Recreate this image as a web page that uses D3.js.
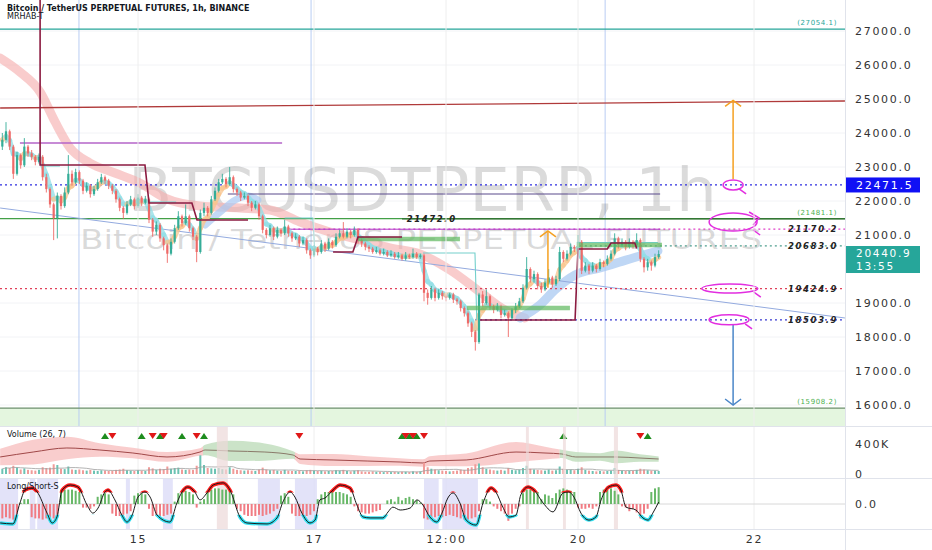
<!DOCTYPE html>
<html><head><meta charset="utf-8">
<script src="https://cdn.jsdelivr.net/npm/d3@7"></script>
<style>
body{margin:0;background:#fff;}
svg{display:block;font-family:"DejaVu Sans",sans-serif;}
</style></head><body>
<svg id="c" width="932" height="550"></svg>
<script>
// ---------------- DATA ----------------
const startTime = Date.UTC(2022,5,13,11); // first hourly candle
const firstOpen = 23600;
const closes = [
23800,24050,23600,22800,23350,23050,23600,23400,23300,23150,
23300,22700,22350,21900,21500,22150,21850,22250,22800,22550,
22850,22600,22300,22450,22200,22350,22550,22700,22600,22450,
22300,22050,21800,21650,21900,22050,21850,22100,21950,22050,
21450,21100,21300,20900,20700,20450,20800,21200,21550,21350,
21550,21200,20950,20500,21650,21800,21650,22050,22300,22550,
22650,22500,22700,22350,22250,22100,22150,21950,21800,21900,
21550,21150,21000,21200,20950,21150,21050,21250,21050,20900,
20950,20750,20850,20550,20400,20600,20500,20750,20600,20800,
20700,20950,21050,20950,21100,21000,21150,20850,20750,20650,
20600,20500,20550,20450,20500,20400,20450,20350,20400,20300,
20400,20350,20450,20350,20400,19300,19150,19400,19150,19300,
19200,19150,19250,19100,19050,18850,18700,18400,18150,17850,
19250,19000,19200,18900,18800,18900,18650,18700,18550,18800,
18900,19050,19450,20000,19700,19850,19500,19400,19600,19750,
19550,19700,20500,20300,20450,20650,20600,20800,19950,20100,
19950,20100,20000,20200,20150,20300,20450,20900,20700,20800,
20650,20800,20700,20850,20300,20050,20200,20100,20350,20440.9];
const highs = [
24000,24320,24100,23650,23450,23400,23850,23650,23500,23350,
23400,23350,22800,22400,21950,22250,22200,22400,23350,22900,
22950,22900,22650,22550,22500,22450,22650,22800,22750,22650,
22500,22350,22100,21850,22000,22150,22100,22200,22150,22150,
22100,21500,21400,21350,20950,20750,20900,21300,21700,21600,
21900,21600,21250,21000,21750,21950,21850,22150,22400,22650,
22800,22700,23000,22750,22400,22300,22250,22200,22000,22000,
21950,21600,21200,21300,21250,21250,21200,21450,21300,21100,
21050,21000,20950,20900,20600,20700,20650,20850,20800,20900,
20850,21050,21150,21380,21200,21150,21250,21200,20900,20800,
20700,20650,20650,20600,20600,20550,20550,20500,20500,20450,
20500,20450,20600,20500,20450,20450,19400,19500,19450,19400,
19350,19250,19300,19300,19150,19100,18900,18750,18450,18200,
19300,19350,19400,19250,18950,19000,18950,18800,18750,18850,
19000,19150,19550,20350,20050,19950,19900,19600,19700,20000,
19800,19800,20650,20550,20550,20750,20700,21000,20850,20200,
20150,20200,20150,20300,20250,20400,20550,21050,20950,20900,
20850,20900,20850,21050,20900,20350,20300,20250,20450,20550];
const lows = [
23500,23700,23500,22650,22750,22950,23000,23300,23200,23050,
23100,22600,22250,21800,20850,20900,21750,21800,22200,22450,
22500,22500,22200,22250,22100,22150,22300,22500,22500,22350,
22200,21950,21700,21480,21600,21850,21750,21800,21850,21900,
21350,20950,21000,20800,20550,20180,20400,20750,21150,21250,
21300,21100,20850,20200,20450,21550,21550,21600,22000,22250,
22500,22400,22450,22250,22150,22000,22050,21850,21700,21750,
21450,21050,20900,20950,20850,20900,20950,21000,20950,20800,
20850,20650,20700,20450,20300,20350,20400,20450,20500,20550,
20600,20650,20900,20900,20900,20900,20950,20750,20650,20550,
20500,20450,20450,20400,20400,20350,20350,20300,20300,20250,
20250,20300,20300,20300,20300,19050,18950,19100,19050,19100,
19100,19050,19100,19000,18950,18750,18600,18300,18000,17600,
17800,18900,18950,18800,18700,18750,18550,18600,18000,18500,
18700,18850,19000,19400,19600,19600,19400,19300,19350,19550,
19450,19500,19650,20200,20250,20400,20500,20550,19850,19900,
19850,19900,19900,19950,20050,20100,20250,20400,20600,20650,
20550,20600,20600,20650,20200,19900,19950,19950,20050,20300];
const volumes = [ // thousands
70,90,80,110,85,60,75,55,50,45, 55,90,80,85,130,120,70,65,100,60,
55,60,50,45,55,45,40,50,45,40, 45,55,60,70,50,45,40,50,45,40,
90,75,55,70,65,100,70,80,85,60, 55,60,55,110,250,120,80,75,70,80,
65,60,90,70,55,50,45,50,45,40, 60,85,60,50,55,45,40,55,45,40,
40,45,35,50,55,45,40,45,35,40, 40,50,45,55,40,35,45,50,35,30,
30,35,30,30,25,30,25,30,25,30, 30,25,35,30,35,150,90,70,60,50,
45,40,35,40,45,60,55,80,90,130, 140,90,70,60,50,45,55,45,80,55,
50,60,80,110,70,60,55,50,45,60, 45,50,100,70,55,60,50,70,90,55,
45,40,35,40,35,40,45,80,55,45, 40,45,40,55,70,60,50,45,45,40];
const hist = [
-0.6,-0.55,-0.6,-0.65,-0.4,0.05,0.2,0.2,-0.55,-0.6,
-0.6,-0.65,-0.6,-0.55,-0.6,-0.5,0.55,0.6,0.6,0.6,
0.55,0.5,-0.15,-0.15,-0.2,-0.1,0.3,0.4,0.45,0.4,
-0.4,-0.5,-0.5,-0.45,-0.4,-0.3,0.35,0.45,0.45,0.4,
-0.2,-0.5,-0.5,-0.55,-0.5,-0.45,-0.4,0.1,0.45,0.5,
0.55,0.5,0.4,-0.15,0.1,0.2,0.55,0.6,0.65,0.65,
0.6,0.6,0.55,0.4,-0.2,-0.3,-0.45,-0.5,-0.5,-0.5,
-0.45,-0.5,-0.45,-0.4,-0.3,-0.2,0.35,0.45,0.3,-0.4,
-0.5,-0.5,-0.45,-0.5,-0.45,-0.3,0.2,0.4,0.5,0.5,
0.55,0.5,0.5,0.45,0.4,0.3,-0.1,-0.3,-0.35,-0.4,
-0.4,-0.35,-0.3,-0.25,0,0.15,0.2,0.1,0.3,0.15,
0.25,0.3,0.2,0.15,0.05,-0.6,-0.65,-0.6,-0.55,-0.5,
-0.55,-0.5,-0.45,-0.5,-0.55,-0.6,-0.65,-0.65,-0.6,-0.55,
-0.3,0.2,0.2,0.1,-0.1,-0.2,-0.3,-0.4,-0.7,-0.4,
-0.2,-0.1,0.45,0.6,0.6,0.55,0.5,0.2,0.4,0.35,
0.25,0.45,0.6,0.65,0.6,0.55,0.5,-0.15,-0.2,-0.2,
-0.15,-0.2,-0.1,0.5,0.6,0.6,0.65,0.55,0.4,-0.1,
-0.15,-0.3,-0.2,-0.35,-0.6,-0.4,-0.2,0.5,0.65,0.7];
const oscHours = [-0.6,2.9,4.8,6.2,8.1,9.5,12.2,13.6,14.9,16.3,18.5,20.6,23.1,24.7,26.1,28,28.8,30.7,32.6,34,35.4,37,38.9,40.3,42.2,45.7,47.6,49,50.6,52.5,53.9,55.8,57.5,60.2,62.1,64.8,66.7,72.2,74.9,76.5,78.5,79.8,81.7,83.9,85.3,86.6,88,90.2,92.1,94.8,96.7,98.4,100.3,103.8,105.2,106.5,108.5,111.2,113.1,114.7,116.6,118.5,119.9,121.5,122.9,124.8,126.5,129.2,131.1,133.3,134.6,136.5,138.2,140.1,141.4,143.4,145,147.5,150.2,152.9,154.5,155.9,157.8,160,161.9,163.3,165.4,167.4,168.7,170.1,172.8,174.7,176.1,177.4,179];
const oscValues = [-0.79,-0.83,0.04,0.58,0.67,0.5,-0.38,-0.79,-0.54,0.58,0.79,0.71,-0.04,-0.38,-0.17,0.5,0.58,0.17,-0.46,-0.75,-0.46,0.29,0.5,0.29,-0.46,-0.75,0.04,0.5,0.71,0.5,0.17,0.46,0.79,0.88,0.58,-0.54,-0.79,-0.83,-0.58,0.08,0.5,0.29,-0.38,-0.79,-0.67,0.17,0.25,0.58,0.79,0.67,-0.04,-0.54,-0.58,-0.58,-0.33,-0.13,-0.25,-0.17,0.17,-0.04,-0.54,-0.75,-0.38,0.25,0.46,0.04,-0.67,-0.88,0.04,0.67,0.5,-0.13,-0.54,-0.46,0.38,0.71,0.58,0.04,-0.33,0.46,0.5,0.29,-0.38,-0.67,-0.54,0.17,0.71,0.79,0.58,-0.13,-0.25,-0.58,-0.67,-0.38,0.08];
const oscShadeSpans = [[-1,4.3],[7.5,9],[9.5,15.2],[33.7,34.8],[43.8,46.5],[69.7,75.7],[79.8,85.8],[115,119],[120,129.7]];
const pinkShadeSpans = [[58.5,61.5],[142.8,143.6],[152.9,153.7],[166.8,167.9]];
// volume envelope indicator: [hour, mid (K), half width (K)]
const volBand = [[-0.6,227,110],[8.4,293,165],[17.6,347,150],[26.6,320,90],[35.6,280,70],[44.9,227,65],[53.9,293,50],[55.3,320,70],[62.1,307,135],[71.6,293,115],[79.3,253,50],[81.2,200,65],[90.2,187,80],[99.5,173,65],[108.5,160,50],[114.7,147,50],[116.6,173,65],[126.5,187,85],[140.1,293,135],[148,280,85],[152.6,267,55],[156.4,227,65],[163,227,50],[167.4,227,85],[173.9,213,50],[179,200,35]];
const volRegimeBreaks = [-2,54.7,79.8,152,180];
const volBullSpans = [[54.7,79.8],[152,180]];
const volUpMarks = [28,38,43,49,55,109,111,113,153,176];
const volDownMarks = [30,41,44,53,81,110,112,115,174];
// slow average bands: [hour, price]
const slowBandBear = [[-0.6,26206],[4.8,25794],[10.3,25206],[14.4,24324],[18.5,23559],[23.9,23118],[30.7,22824],[37.5,22530],[44.4,22088],[53.9,21853],[64.8,21794],[73,21735],[81.2,21383],[89.3,21089],[97.5,20853],[105.7,20618],[113.9,20441],[122.1,19971],[130.3,19324],[137.1,18794],[142.5,18559]];
const slowBandBull = [[141.2,18559],[146.6,18941],[150.7,19383],[156.2,19824],[163,20030],[168.4,20206],[173.9,20383],[178.8,20530]];
const slowBandArc = [[55.3,21294],[59.4,21677],[63.5,22030],[67,22147],[69.7,22030]];
// horizontal levels
const bracketLevels = [27054.1, 21481.1, 15908.2];
const dottedLevels = [22471.5, 21170.2, 20683.0, 19424.9, 18503.9];
const dottedStarts = [-40, 78, 157.5, -40, 128.9];
const midLevel = 21472.0, midLevelStart = 109, midLabelHour = 110.3;
const purpleLevel = 23706, purpleSpan = [4.8, 76.3];
const navyLevel = 22206, navySpan = [61.5, 179.4];
const violetLevel = 21170.2, violetSpan = [78, 179.4];
const channelLine = [[-0.6,24735],[229.8,24941]];
const trendLine = [[-0.6,21794],[229.8,18559]];
const stepLines = [
  [[10.3,28500],[10.3,23059],[38.9,23059],[40,21941],[51.7,21941],[53.1,21441],[67,21441]],
  [[90.2,20500],[95.6,20500],[97,20941],[109,20941]],
  [[130.3,18500],[156.2,18500],[157,20588],[165,20588],[166,20765],[172.5,20765],[173,20600]]];
const tealSteps = [
  [[11.1,23030],[15.7,23030]],
  [[39.7,21970],[47.4,21970]],
  [[77,21500],[84.7,21500],[85.2,20560]],
  [[114.7,20471],[128.9,20471],[129.4,18500]],
  [[156.7,20780],[178.8,20780]]];
const supplyZones = [[97,124.8,20883],[126.7,154.8,18853],[156.7,179.9,20706]];
const sessionLines = [20.9, 84.2, 164.4];
const upArrows = [[199.3,22650,24960],[148.8,19450,21120]];
const downArrows = [[199.3,18380,16000]];
const loops = [[199.3,22471.5],[199.3,21382],[198.4,19424.9],[198.2,18503.9]];
const priceTicks = [16000,17000,18000,19000,21000,22000,23000,24000,25000,26000,27000];
const xTickDates = ['2022-06-15T00:00Z','2022-06-17T00:00Z','2022-06-18T12:00Z','2022-06-20T00:00Z','2022-06-22T00:00Z'];
const xTickLabels = ['15','17','12:00','20','22'];
const volTicks = [0,400], volTickLabels = ['0','400K'];
const lastPrice = 20440.9, countdown = '13:55';
const alertPrice = 22471.5;

// ---------------- SCALES ----------------
const svg = d3.select('#c');
const PX = 845;
const x = d3.scaleUtc().domain([new Date(Date.UTC(2022,5,15)), new Date(Date.UTC(2022,5,22))]).range([138,754]);
const T = i => new Date(startTime + i*3600e3);
const X = i => x(T(i));
const y = d3.scaleLinear().domain([16000,27000]).range([405,31]);
const yv = d3.scaleLinear().domain([0,400]).range([474,444]);
const yo = d3.scaleLinear().domain([-1,1]).range([528,480]);

const defs = svg.append('defs');
function clip(id,x0,y0,w,h){defs.append('clipPath').attr('id',id).append('rect').attr('x',x0).attr('y',y0).attr('width',w).attr('height',h);}
clip('cm',0,0,PX,426); clip('cv',0,427,PX,51); clip('co',0,479,PX,50);
clip('oRed',0,479,PX,yo(0.48)-479); clip('oCyan',0,yo(-0.45),PX,530-yo(-0.45));

// ---------------- MAIN PANE ----------------
const m = svg.append('g').attr('clip-path','url(#cm)');
m.append('rect').attr('x',0).attr('y',y(15908.2)).attr('width',PX).attr('height',426-y(15908.2)).attr('fill','#e4f6df');
priceTicks.forEach(p=>m.append('line').attr('x1',0).attr('x2',PX).attr('y1',y(p)).attr('y2',y(p)).attr('stroke','#f2f3f6'));
xTickDates.forEach(d=>svg.append('line').attr('x1',x(new Date(d))).attr('x2',x(new Date(d))).attr('y1',0).attr('y2',529).attr('stroke','#eeeeee'));
sessionLines.forEach(h=>m.append('line').attr('x1',X(h)).attr('x2',X(h)).attr('y1',0).attr('y2',426).attr('stroke','#b9cdf3').attr('stroke-width',1));

// watermark
m.append('text').attr('x',128).attr('y',211).attr('font-size',60).attr('textLength',589).attr('lengthAdjust','spacingAndGlyphs')
 .attr('fill','rgba(90,90,90,0.22)').text('BTCUSDTPERP, 1h');
m.append('text').attr('x',80).attr('y',249).attr('font-size',26).attr('textLength',682).attr('lengthAdjust','spacingAndGlyphs')
 .attr('fill','rgba(90,90,90,0.22)').text('Bitcoin / TetherUS PERPETUAL FUTURES');

const ln = d3.line().x(d=>X(d[0])).y(d=>y(d[1]));
const lnC = d3.line().x(d=>X(d[0])).y(d=>y(d[1])).curve(d3.curveMonotoneX);
m.append('path').attr('d',lnC(slowBandBear)).attr('fill','none').attr('stroke','#f5aaaa').attr('stroke-opacity',0.6).attr('stroke-width',9).attr('stroke-linecap','round');
m.append('path').attr('d',lnC(slowBandBull)).attr('fill','none').attr('stroke','#a9c9f2').attr('stroke-opacity',0.75).attr('stroke-width',9).attr('stroke-linecap','round');
m.append('path').attr('d',lnC(slowBandArc)).attr('fill','none').attr('stroke','#a9c9f2').attr('stroke-opacity',0.7).attr('stroke-width',7).attr('stroke-linecap','round');

// levels
const lvlColors = ['#26a69a','#43a047','#6d8f6d'];
bracketLevels.forEach((p,k)=>{
  m.append('line').attr('x1',0).attr('x2',PX).attr('y1',y(p)).attr('y2',y(p)).attr('stroke',lvlColors[k]).attr('stroke-width',1.2);
});
m.append('path').attr('d',ln(channelLine)).attr('stroke','#b03a3a').attr('stroke-width',1.3).attr('fill','none');
m.append('path').attr('d',ln(trendLine)).attr('stroke','#93aadf').attr('stroke-width',1).attr('fill','none');
m.append('line').attr('x1',X(midLevelStart)).attr('x2',PX).attr('y1',y(midLevel)).attr('y2',y(midLevel)).attr('stroke','#2e6b2e').attr('stroke-width',1.2);
const dotColors = ['#2f2fe0','#e040c8','#4f9f8f','#e0405a','#3535d0'];
dottedLevels.forEach((p,k)=>{
  m.append('line').attr('x1',Math.max(0,X(dottedStarts[k]))).attr('x2',PX).attr('y1',y(p)).attr('y2',y(p))
   .attr('stroke',dotColors[k]).attr('stroke-width',1.2).attr('stroke-dasharray','2,3');
});
m.append('line').attr('x1',X(purpleSpan[0])).attr('x2',X(purpleSpan[1])).attr('y1',y(purpleLevel)).attr('y2',y(purpleLevel)).attr('stroke','#b565c8').attr('stroke-width',1.6);
m.append('line').attr('x1',X(navySpan[0])).attr('x2',X(navySpan[1])).attr('y1',y(navyLevel)).attr('y2',y(navyLevel)).attr('stroke','#5a4a8c').attr('stroke-width',1.1);
m.append('line').attr('x1',X(violetSpan[0])).attr('x2',X(violetSpan[1])).attr('y1',y(violetLevel)).attr('y2',y(violetLevel)).attr('stroke','#b03cc8').attr('stroke-width',1);

// fast average band
let e = closes[0];
const ema = closes.map(c => (e = e + (c-e)*0.4));
for(let i=1;i<ema.length;i++){
  m.append('line').attr('x1',X(i-1)).attr('x2',X(i)).attr('y1',y(ema[i-1])).attr('y2',y(ema[i]))
   .attr('stroke', ema[i]>=ema[i-1] ? '#f8c48e' : '#8fdde6').attr('stroke-opacity',0.75).attr('stroke-width',5).attr('stroke-linecap','round');
}
tealSteps.forEach(s=>m.append('path').attr('d',ln(s)).attr('fill','none').attr('stroke','#74d0cc').attr('stroke-width',1.1));

// candles
const cw = 2.2;
closes.forEach((c,i)=>{
  const o = i ? closes[i-1] : firstOpen;
  const col = c>=o ? '#35ad98' : '#ee6a68';
  m.append('line').attr('x1',X(i)).attr('x2',X(i)).attr('y1',y(highs[i])).attr('y2',y(lows[i])).attr('stroke',col).attr('stroke-width',0.9);
  const top = y(Math.max(o,c)), bot = y(Math.min(o,c));
  m.append('rect').attr('x',X(i)-cw/2).attr('y',top).attr('width',cw).attr('height',Math.max(1,bot-top)).attr('fill',col);
});

supplyZones.forEach(z=>m.append('line').attr('x1',X(z[0])).attr('x2',X(z[1])).attr('y1',y(z[2])).attr('y2',y(z[2]))
  .attr('stroke','#5cb85c').attr('stroke-opacity',0.7).attr('stroke-width',4.5));
stepLines.forEach(s=>m.append('path').attr('d',ln(s)).attr('fill','none').attr('stroke','#8b1a40').attr('stroke-width',1.6));

// arrows
function arrow(h,p0,p1,col){
  const xx=X(h), y0=y(p0), y1=y(p1), dir = y1<y0 ? 1 : -1;
  m.append('line').attr('x1',xx).attr('x2',xx).attr('y1',y0).attr('y2',y1).attr('stroke',col).attr('stroke-width',1.5);
  m.append('path').attr('d',`M${xx-8},${y1+dir*6}L${xx},${y1}L${xx+8},${y1+dir*6}`).attr('fill','none').attr('stroke',col).attr('stroke-width',1.5);
}
upArrows.forEach(a=>arrow(a[0],a[1],a[2],'#f5a020'));
downArrows.forEach(a=>arrow(a[0],a[1],a[2],'#4a86c8'));
// hand-drawn loops
const loopSize = [[10,5],[24,9],[28,4.5],[20,5]];
loops.forEach((l,k)=>{
  const cx=X(l[0]), cy=y(l[1]), rx=loopSize[k][0], ry=loopSize[k][1];
  m.append('ellipse').attr('cx',cx).attr('cy',cy).attr('rx',rx).attr('ry',ry).attr('fill','none').attr('stroke','#e22ee0').attr('stroke-width',1.5);
  m.append('path').attr('d',`M${cx+rx-4},${cy+ry-1}L${cx+rx+3},${cy+ry+4}`).attr('stroke','#e22ee0').attr('stroke-width',1.5);
});
m.append('path').attr('d',`M${X(199.3)+16},${y(21382)-10}L${X(199.3)+26},${y(21382)-4}L${X(199.3)+20},${y(21382)+3}`).attr('fill','none').attr('stroke','#e22ee0').attr('stroke-width',1.5);

// level labels
bracketLevels.forEach((p,k)=>m.append('text').attr('x',837).attr('y',y(p)-4).attr('text-anchor','end').attr('font-size',7).attr('letter-spacing',0.6)
  .attr('fill',k===0?'#26a69a':'#4caf50').text('('+p.toFixed(1)+')'));
const lblStyle = s=>s.attr('font-size',8.5).attr('font-style','italic').attr('font-weight','bold').attr('letter-spacing',1.6).attr('fill','#222');
dottedLevels.slice(1).forEach(p=>lblStyle(m.append('text').attr('x',838).attr('y',y(p)+3).attr('text-anchor','end')).text(p.toFixed(1)));
lblStyle(m.append('text').attr('x',X(midLabelHour)).attr('y',y(midLevel)+3)).text(midLevel.toFixed(1));

// header
svg.append('text').attr('x',7).attr('y',10.5).attr('font-size',8).attr('font-weight','bold').attr('fill','#131722').text('Bitcoin / TetherUS PERPETUAL FUTURES, 1h, BINANCE');
svg.append('text').attr('x',7).attr('y',18.5).attr('font-size',8).attr('fill','#131722').text('MRHAB-T');

// ---------------- VOLUME PANE ----------------
const v = svg.append('g').attr('clip-path','url(#cv)');
const bandArea = d3.area().x(d=>X(d[0])).y0(d=>yv(d[1]-d[2])).y1(d=>yv(d[1]+d[2])).curve(d3.curveMonotoneX);
const isBull = h => volBullSpans.some(s=>h>=s[0]&&h<s[1]);
volRegimeBreaks.slice(0,-1).forEach((b,k)=>{
  const r=[b,volRegimeBreaks[k+1]];
  const id='vr'+k; clip(id,X(r[0]),427,X(r[1])-X(r[0]),51);
  const bull=isBull((r[0]+r[1])/2);
  const g=v.append('g').attr('clip-path',`url(#${id})`);
  g.append('path').attr('d',bandArea(volBand)).attr('fill',bull?'#b9dab6':'#f7bcbc').attr('opacity',0.75);
  g.append('path').attr('d',d3.line().x(d=>X(d[0])).y(d=>yv(d[1])).curve(d3.curveMonotoneX)(volBand)).attr('fill','none')
   .attr('stroke',bull?'#8a7a6a':'#a04848').attr('stroke-width',1);
});
pinkShadeSpans.forEach(s=>svg.append('rect').attr('x',X(s[0])).attr('y',427).attr('width',X(s[1])-X(s[0])).attr('height',102).attr('fill','#ecd9d9').attr('opacity',0.7));
volumes.forEach((vv,i)=>{
  const o = i ? closes[i-1] : firstOpen;
  v.append('rect').attr('x',X(i)-1).attr('y',yv(vv)).attr('width',2).attr('height',yv(0)-yv(vv))
   .attr('fill',closes[i]>=o?'#6cc3b3':'#f19b99');
});
const vma = volumes.map((d,i)=>d3.mean(volumes.slice(Math.max(0,i-9),i+1)));
v.append('path').attr('d',d3.line().x((d,i)=>X(i)).y(d=>yv(d))(vma)).attr('fill','none').attr('stroke','#a0a0a0').attr('stroke-width',0.8);
volUpMarks.forEach(h=>v.append('path').attr('d',`M${X(h)-4},439L${X(h)+4},439L${X(h)},433Z`).attr('fill','#1e8c1e'));
volDownMarks.forEach(h=>v.append('path').attr('d',`M${X(h)-4},433L${X(h)+4},433L${X(h)},439Z`).attr('fill','#e01818'));
svg.append('text').attr('x',7).attr('y',437).attr('font-size',8).attr('fill','#131722').text('Volume (26, 7)');

// ---------------- OSCILLATOR PANE ----------------
const o = svg.append('g').attr('clip-path','url(#co)');
oscShadeSpans.forEach(s=>o.append('rect').attr('x',X(s[0])).attr('y',479).attr('width',X(s[1])-X(s[0])).attr('height',50).attr('fill','#dcdcf7').attr('opacity',0.8));
o.append('line').attr('x1',0).attr('x2',PX).attr('y1',yo(0)).attr('y2',yo(0)).attr('stroke','#d8d8d8');
hist.forEach((hv,i)=>{
  o.append('rect').attr('x',X(i)-1).attr('y',Math.min(yo(hv),yo(0))).attr('width',2).attr('height',Math.abs(yo(hv)-yo(0)))
   .attr('fill',hv>=0?'#68b868':'#f07c84');
});
const oscPts = oscHours.map((h,k)=>[h,oscValues[k]]);
const oscLine = d3.line().x(d=>X(d[0])).y(d=>yo(d[1])).curve(d3.curveMonotoneX)(oscPts);
o.append('path').attr('d',oscLine).attr('fill','none').attr('stroke','#ff1a1a').attr('stroke-width',3.5).attr('clip-path','url(#oRed)');
o.append('path').attr('d',oscLine).attr('fill','none').attr('stroke','#33e0f0').attr('stroke-width',3.5).attr('clip-path','url(#oCyan)');
o.append('path').attr('d',oscLine).attr('fill','none').attr('stroke','#1a1a1a').attr('stroke-width',1);
svg.append('text').attr('x',7).attr('y',489).attr('font-size',8).attr('fill','#131722').text('Long/Short-S');

// ---------------- FRAME & AXES ----------------
[426.5,478.5,529.5].forEach(yy=>svg.append('line').attr('x1',0).attr('x2',932).attr('y1',yy).attr('y2',yy).attr('stroke','#e0e3eb'));
svg.append('line').attr('x1',PX+0.5).attr('x2',PX+0.5).attr('y1',0).attr('y2',550).attr('stroke','#e0e3eb');
const axStyle = g=>{g.select('.domain').remove(); g.selectAll('text').attr('font-size',11).attr('letter-spacing',1.7).attr('fill','#333').attr('font-family','"DejaVu Sans",sans-serif');};
svg.append('g').attr('transform',`translate(${PX},0)`).call(d3.axisRight(y).tickValues(priceTicks).tickFormat(d3.format('.1f')).tickSize(0).tickPadding(10)).call(axStyle);
svg.append('g').attr('transform',`translate(${PX},0)`).call(d3.axisRight(yv).tickValues(volTicks).tickFormat((d,k)=>volTickLabels[k]).tickSize(0).tickPadding(10)).call(axStyle);
svg.append('g').attr('transform',`translate(${PX},0)`).call(d3.axisRight(yo).tickValues([0]).tickFormat(d3.format('.1f')).tickSize(0).tickPadding(10)).call(axStyle);
svg.append('g').attr('transform','translate(0,530)').call(d3.axisBottom(x).tickValues(xTickDates.map(d=>new Date(d))).tickFormat((d,k)=>xTickLabels[k]).tickSize(0).tickPadding(5)).call(axStyle);

// price tags
svg.append('rect').attr('x',PX+1).attr('y',y(alertPrice)-7.5).attr('width',74).attr('height',15).attr('fill','#1010f5');
svg.append('text').attr('x',PX+11).attr('y',y(alertPrice)+4).attr('font-size',11).attr('letter-spacing',1.7).attr('fill','#fff').text(alertPrice.toFixed(1));
svg.append('rect').attr('x',PX+1).attr('y',y(lastPrice)-8).attr('width',74).attr('height',27).attr('fill','#26a69a');
svg.append('text').attr('x',PX+11).attr('y',y(lastPrice)+2.5).attr('font-size',10.5).attr('letter-spacing',1.7).attr('fill','#fff').text(lastPrice.toFixed(1));
svg.append('text').attr('x',PX+11).attr('y',y(lastPrice)+15.5).attr('font-size',10.5).attr('letter-spacing',1.7).attr('fill','#fff').text(countdown);
</script>
</body></html>
